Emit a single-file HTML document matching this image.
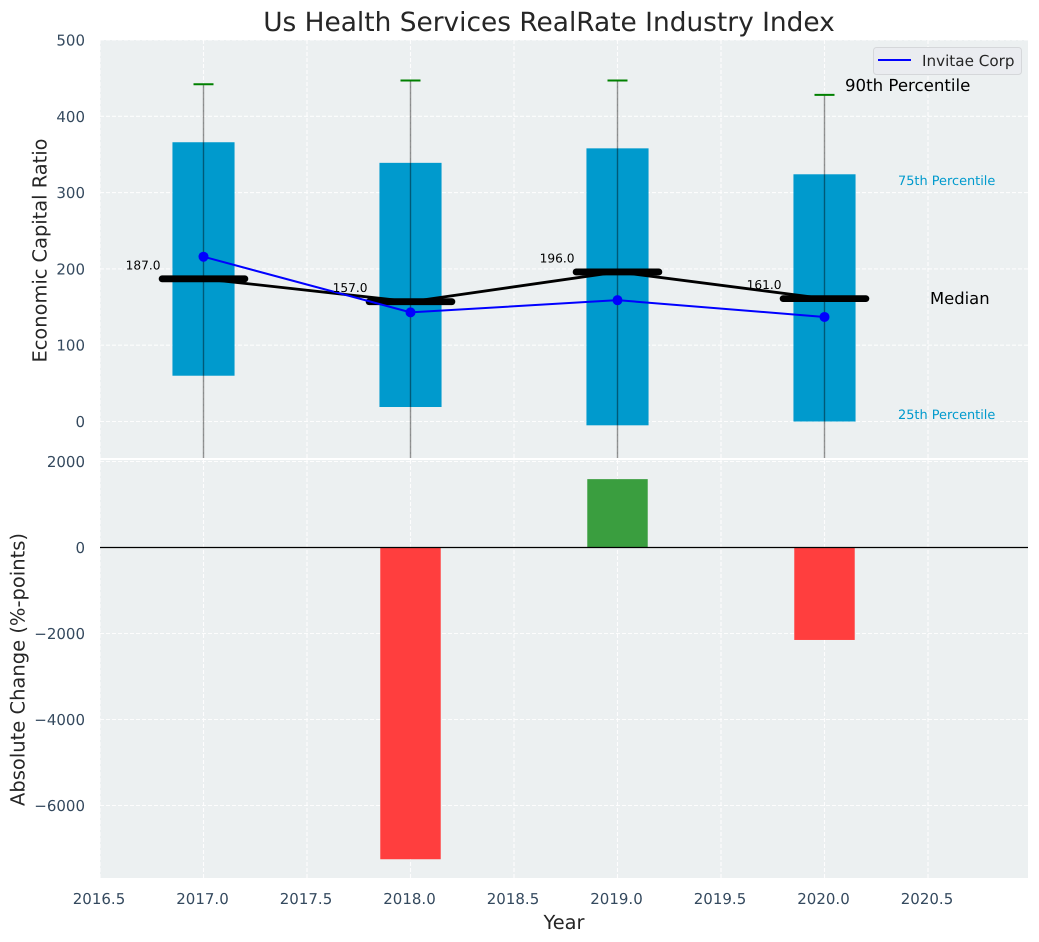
<!DOCTYPE html>
<html>
<head>
<meta charset="utf-8">
<title>Us Health Services RealRate Industry Index</title>
<style>
html,body{margin:0;padding:0;background:#fff;}
svg{display:block;font-family:"DejaVu Sans","Liberation Sans",sans-serif;text-rendering:geometricPrecision;}
</style>
</head>
<body>
<svg id="chart" xmlns="http://www.w3.org/2000/svg" width="1039" height="942" viewBox="0 0 1039 942">
  <defs>
    <clipPath id="clipTop"><rect x="100" y="40" width="928" height="418"/></clipPath>
    <clipPath id="clipBottom"><rect x="100" y="460" width="928" height="418"/></clipPath>
  </defs>
  <text x="549" y="31" font-size="26.4" text-anchor="middle" fill="#262626">Us Health Services RealRate Industry Index</text>
  <rect x="100" y="40" width="928" height="418" fill="#ecf0f1"/>
  <rect x="100" y="460" width="928" height="418" fill="#ecf0f1"/>
  <g id="gridTop" clip-path="url(#clipTop)"></g>
  <g id="gridBottom" clip-path="url(#clipBottom)"></g>
  <g id="marksTop" clip-path="url(#clipTop)"></g>
  <g id="marksBottom" clip-path="url(#clipBottom)"></g>
  <g id="tickLabels"></g>
  <g id="valueLabels"></g>
  <text x="564" y="929" font-size="19.4" text-anchor="middle" fill="#262626">Year</text>
  <text transform="translate(46.5,250.5) rotate(-90)" font-size="19.4" text-anchor="middle" fill="#262626">Economic Capital Ratio</text>
  <text transform="translate(24.5,669.5) rotate(-90)" font-size="19.5" text-anchor="middle" fill="#262626">Absolute Change (%-points)</text>
  <text x="845" y="91" font-size="16.6" fill="#000">90th Percentile</text>
  <text x="898" y="185" font-size="12.9" fill="#009acd">75th Percentile</text>
  <text x="930" y="304" font-size="16.4" fill="#000">Median</text>
  <text x="898" y="419" font-size="12.9" fill="#009acd">25th Percentile</text>
  <g>
    <rect x="873.5" y="47.5" width="148" height="27" rx="3" fill="#eaecf0" stroke="#d5d7da" stroke-width="1"/>
    <line x1="878" y1="60" x2="911" y2="60" stroke="#0000ff" stroke-width="2"/>
    <text x="922" y="66" font-size="15.2" fill="#262626">Invitae Corp</text>
  </g>
</svg>
<script>
const years = [2017, 2018, 2019, 2020];
const p90 = [442, 447, 447, 428];
const p75 = [366, 339, 358, 324];
const medians = [187, 157, 196, 161];
const p25 = [60, 19, -5, 0];
const p10 = [-120, -130, -110, -115];
const invitae = [216, 143, 159, 137];
const changeYears = [2018, 2019, 2020];
const changes = [-7250, 1590, -2150];
const medianLabels = ['187.0', '157.0', '196.0', '161.0'];
const xTicks = [2016.5, 2017, 2017.5, 2018, 2018.5, 2019, 2019.5, 2020, 2020.5];
const xTickLabels = ['2016.5', '2017.0', '2017.5', '2018.0', '2018.5', '2019.0', '2019.5', '2020.0', '2020.5'];
const yTicksTop = [0, 100, 200, 300, 400, 500];
const yTicksBottom = [-6000, -4000, -2000, 0, 2000];
const yTickLabelsBottom = ['\u22126000', '\u22124000', '\u22122000', '0', '2000'];

const NS = 'http://www.w3.org/2000/svg';
const xScale = v => 100 + (v - 2016.5) * 207;
const yTop = v => 421.5 - v * 0.763;
const yBottom = v => 547.5 - v * 0.043;

function make(parent, tag, attrs, text) {
  const el = document.createElementNS(NS, tag);
  for (const k in attrs) el.setAttribute(k, attrs[k]);
  if (text !== undefined) el.textContent = text;
  document.getElementById(parent).appendChild(el);
  return el;
}
const dash = {stroke: '#ffffff', 'stroke-width': 1.1, 'stroke-dasharray': '4 2', opacity: 0.9};

xTicks.forEach((t, i) => {
  const a = make('gridTop', 'line', {x1: xScale(t), x2: xScale(t), y1: 40, y2: 458, ...dash});
  
  
  const b = make('gridBottom', 'line', {x1: xScale(t), x2: xScale(t), y1: 460, y2: 878, ...dash});
  
  
  const c = make('tickLabels', 'text', {x: xScale(t) - 1, y: 904, 'font-size': 15, 'text-anchor': 'middle', fill: '#34495e'}, xTickLabels[i]);
  
  
});
yTicksTop.forEach(t => {
  const a = make('gridTop', 'line', {x1: 100, x2: 1028, y1: yTop(t), y2: yTop(t), ...dash});
  
  
  const c = make('tickLabels', 'text', {x: 85, y: yTop(t) + 5.5, 'font-size': 15, 'text-anchor': 'end', fill: '#34495e'}, String(t));
  
  
});
yTicksBottom.forEach((t, i) => {
  const a = make('gridBottom', 'line', {x1: 100, x2: 1028, y1: yBottom(t), y2: yBottom(t), ...dash});
  
  
  const c = make('tickLabels', 'text', {x: 85, y: yBottom(t) + 5.5, 'font-size': 15, 'text-anchor': 'end', fill: '#34495e'}, yTickLabelsBottom[i]);
  
  
});

years.forEach((yr, i) => {
  const x = xScale(yr);
  const bar = make('marksTop', 'rect', {x: xScale(yr - 0.15), y: yTop(p75[i]), width: xScale(yr + 0.15) - xScale(yr - 0.15), height: yTop(p25[i]) - yTop(p75[i]), fill: '#009acd'});
  
  
  const whisker = make('marksTop', 'line', {x1: x, x2: x, y1: yTop(p90[i]), y2: yTop(p10[i]), stroke: '#000', 'stroke-opacity': 0.42, 'stroke-width': 1.4});
  
  
  const cap = make('marksTop', 'line', {x1: x - 10, x2: x + 10, y1: yTop(p90[i]), y2: yTop(p90[i]), stroke: '#008000', 'stroke-width': 2});
  
  
});

const medianLine = make('marksTop', 'polyline', {points: years.map((yr, i) => xScale(yr) + ',' + yTop(medians[i])).join(' '), fill: 'none', stroke: '#000', 'stroke-width': 2.8});



years.forEach((yr, i) => {
  const seg = make('marksTop', 'line', {x1: xScale(yr - 0.2), x2: xScale(yr + 0.2), y1: yTop(medians[i]), y2: yTop(medians[i]), stroke: '#000', 'stroke-width': 6.8, 'stroke-linecap': 'round'});
  
  
  const lab = make('valueLabels', 'text', {x: xScale(yr) - 43, y: yTop(medians[i]) - 9.5, 'font-size': 12.2, 'text-anchor': 'end', fill: '#000'}, medianLabels[i]);
  
  
});

const invitaeLine = make('marksTop', 'polyline', {points: years.map((yr, i) => xScale(yr) + ',' + yTop(invitae[i])).join(' '), fill: 'none', stroke: '#0000ff', 'stroke-width': 2});


years.forEach((yr, i) => {
  const pt = make('marksTop', 'circle', {cx: xScale(yr), cy: yTop(invitae[i]), r: 5, fill: '#0000ff'});
  
  
});

changeYears.forEach((yr, i) => {
  const v = changes[i];
  const top = Math.max(v, 0), bot = Math.min(v, 0);
  const bar = make('marksBottom', 'rect', {x: xScale(yr - 0.146), y: yBottom(top), width: xScale(yr + 0.146) - xScale(yr - 0.146), height: yBottom(bot) - yBottom(top), fill: v < 0 ? '#ff3e3e' : '#3a9e3f'});
  
  
});
const zero = make('marksBottom', 'line', {x1: 100, x2: 1028, y1: yBottom(0), y2: yBottom(0), stroke: '#000', 'stroke-width': 1.3});


</script>
</body>
</html>
